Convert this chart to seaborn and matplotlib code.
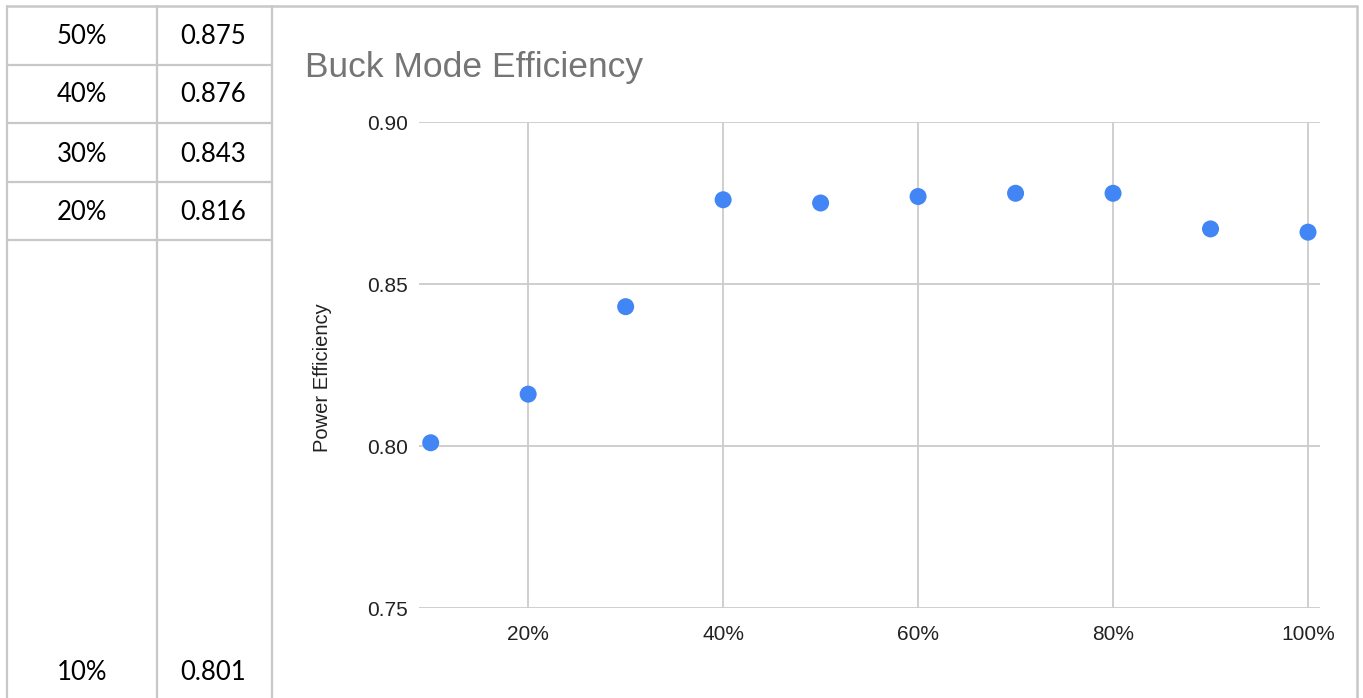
import matplotlib
matplotlib.use("Agg")
import matplotlib.pyplot as plt
import seaborn as sns
import pandas as pd
from matplotlib.lines import Line2D
from matplotlib.ticker import FuncFormatter

# ---- data ----
load_pct = [0.1, 0.2, 0.3, 0.4, 0.5, 0.6, 0.7, 0.8, 0.9, 1.0]
efficiency = [0.801, 0.816, 0.843, 0.876, 0.875, 0.877, 0.878, 0.878, 0.867, 0.866]

table_load = ["50%", "40%", "30%", "20%", "10%"]
table_eff = ["0.875", "0.876", "0.843", "0.816", "0.801"]

title = "Buck Mode Efficiency"
ylabel = "Power Efficiency"
yticks = [0.75, 0.80, 0.85, 0.90]
xticks = [0.2, 0.4, 0.6, 0.8, 1.0]

sns.set_theme(style="white")
plt.rcParams["font.family"] = ["Liberation Sans", "DejaVu Sans"]

W, H = 1363, 698
fig = plt.figure(figsize=(W / 100, H / 100), dpi=100)
fig.patch.set_facecolor("white")

def fx(px):
    return px / W

def fy(py):
    return 1 - py / H

# ---- spreadsheet grid (decoration) ----
gcol = "#c8c8c8"
for x in [7, 157, 272]:
    fig.add_artist(Line2D([fx(x), fx(x)], [fy(6), fy(698)], color=gcol, lw=1.6))
fig.add_artist(Line2D([fx(1357), fx(1357)], [fy(6), fy(698)], color=gcol, lw=1.8))
fig.add_artist(Line2D([fx(7), fx(1357)], [fy(6), fy(6)], color=gcol, lw=1.8))
for y in [65, 123, 182, 240]:
    fig.add_artist(Line2D([fx(7), fx(272)], [fy(y), fy(y)], color=gcol, lw=1.6))

row_y = [36, 95, 154, 212, 672]
for ry, a, b in zip(row_y, table_load, table_eff):
    fig.text(fx(82), fy(ry), a, ha="center", va="center", fontsize=18.5,
             family=["Lato", "DejaVu Sans"], color="#000000")
    fig.text(fx(213), fy(ry), b, ha="center", va="center", fontsize=18.5,
             family=["Lato", "DejaVu Sans"], color="#000000")

# ---- chart ----
ax = fig.add_axes([fx(419), fy(608), fx(1320) - fx(419), fy(122) - fy(608)])
df = pd.DataFrame({"load": load_pct, "eff": efficiency})
sns.scatterplot(data=df, x="load", y="eff", ax=ax, s=150, color="#4285F4",
                edgecolor="none", zorder=3, clip_on=False)

x0 = 0.1 - (430.7 - 419) / 975.0
x1 = 1.0 + (1320 - 1308) / 975.0
ax.set_xlim(x0, x1)
ax.set_ylim(0.75, 0.90)
ax.set_xticks(xticks)
ax.set_yticks(yticks)
ax.xaxis.set_major_formatter(FuncFormatter(lambda v, p: f"{v*100:.0f}%"))
ax.yaxis.set_major_formatter(FuncFormatter(lambda v, p: f"{v:.2f}"))
ax.grid(True, color="#cccccc", lw=1.3)
ax.set_axisbelow(True)
for s in ax.spines.values():
    s.set_visible(False)
ax.tick_params(axis="both", length=0, labelsize=15, colors="#222222")
for lab in ax.get_xticklabels() + ax.get_yticklabels():
    lab.set_family(["Liberation Sans", "DejaVu Sans"])
ax.tick_params(axis="y", pad=8)
ax.tick_params(axis="x", pad=12)
ax.set_xlabel("")
ax.set_ylabel("")

fig.text(fx(323), fy(378), ylabel, rotation=90, ha="center", va="center",
         fontsize=14.5, color="#222222", family=["Liberation Sans", "DejaVu Sans"])
fig.text(fx(305), fy(68), title, ha="left", va="center", fontsize=25.5,
         color="#757575", family=["Liberation Sans", "DejaVu Sans"])

fig.savefig("out.png", dpi=100, facecolor="white")
